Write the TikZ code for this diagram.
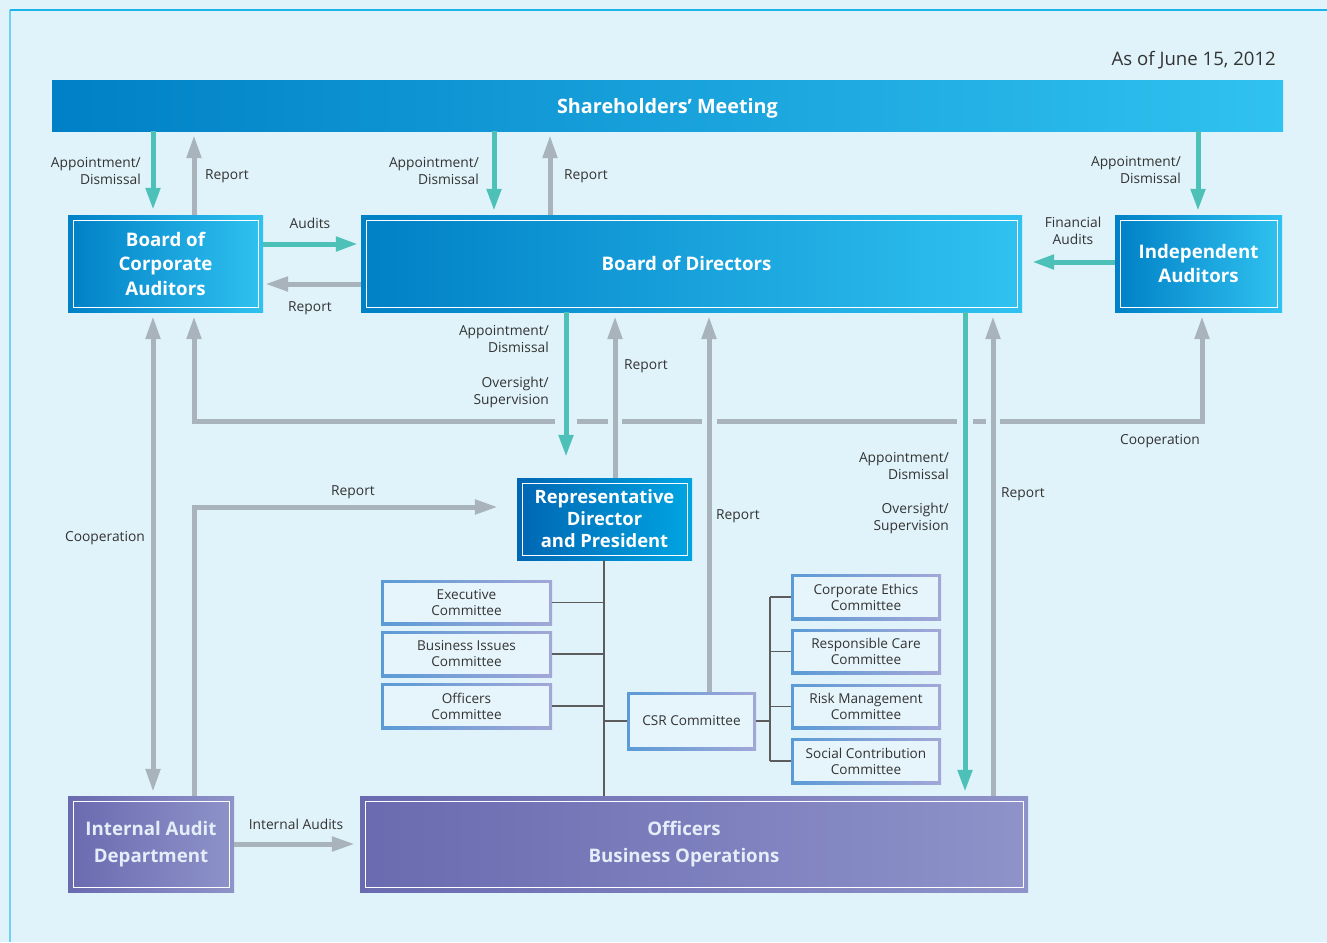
\documentclass[tikz,border=0pt]{standalone}
\usepackage{fontspec}
\setmainfont{Open Sans}
\usetikzlibrary{arrows.meta,calc}

\definecolor{bgc}{HTML}{E0F3FA}
\definecolor{framec}{HTML}{1AB4EC}
\definecolor{framel}{HTML}{6FD0F4}
\definecolor{tealc}{HTML}{4DC1B8}
\definecolor{grayc}{HTML}{A8B3BC}
\definecolor{blueL}{HTML}{0080C6}
\definecolor{blueR}{HTML}{30C2F0}
\definecolor{repL}{HTML}{0066B3}
\definecolor{repR}{HTML}{00A5E2}
\definecolor{purL}{HTML}{6A6AB0}
\definecolor{purR}{HTML}{8E93C9}
\definecolor{comL}{HTML}{5A9BD6}
\definecolor{comR}{HTML}{A3A7D7}
\definecolor{comfill}{HTML}{E6F5FB}
\definecolor{txt}{HTML}{333333}
\definecolor{lnc}{HTML}{5C5C5C}
\definecolor{purtxt}{HTML}{E4EEF9}

\tikzset{
  innerframe/.style={path picture={\draw[white,line width=1pt]
    ([shift={(#1,#1)}]path picture bounding box.south west) rectangle
    ([shift={(-#1,-#1)}]path picture bounding box.north east);}},
  bluebox/.style={draw=none, inner sep=0pt, left color=blueL, right color=blueR,
    text=white, align=center, font=\bfseries\fontsize{18.7}{24.5}\selectfont,
    innerframe=5pt},
  repbox/.style={bluebox, left color=repL, right color=repR,
    font=\bfseries\fontsize{18.4}{22}\selectfont},
  purbox/.style={draw=none, inner sep=0pt, left color=purL, right color=purR,
    text=purtxt, align=center, font=\bfseries\fontsize{18.7}{27}\selectfont,
    innerframe=5pt},
  combox/.style={draw=none, inner sep=0pt, left color=comL, right color=comR,
    text=txt, align=center, font=\fontsize{13.6}{16}\selectfont,
    path picture={\fill[comfill]
      ([shift={(3pt,3pt)}]path picture bounding box.south west) rectangle
      ([shift={(-3pt,-3pt)}]path picture bounding box.north east);}},
  lbl/.style={text=txt, inner sep=0pt, font=\fontsize{13.8}{17}\selectfont},
  tarr/.style={draw=tealc, line width=5pt, -{Triangle[length=22pt,width=14pt]}},
  garr/.style={draw=grayc, line width=5pt, -{Triangle[length=23pt,width=14pt]}},
  garrboth/.style={draw=grayc, line width=5pt,
    {Triangle[length=23pt,width=14pt]}-{Triangle[length=23pt,width=14pt]}},
  thinln/.style={draw=lnc, line width=1.1pt},
  gapmark/.style={fill=bgc}
}

\begin{document}
\begin{tikzpicture}[x=1pt,y=-1pt]
% page and frame
\fill[bgc] (0,0) rectangle (1327,942);
\useasboundingbox (0,0) rectangle (1327,942);
\draw[framel, line width=1.6pt] (10,942) -- (10,10);
\draw[framec, line width=1.6pt] (10,10) -- (1327,10);

\node[lbl, anchor=east, font=\fontsize{18.6}{20}\selectfont] (date) at (1276,60) {As of June 15, 2012};

% main bodies
\node[draw=none, inner sep=0pt, left color=blueL, right color=blueR, text=white,
  font=\bfseries\fontsize{19.8}{22}\selectfont, minimum width=1231pt, minimum height=51pt]
  (sm) at (667.5,105.5) {\raisebox{-7.5pt}[0pt][0pt]{Shareholders’ Meeting}};
\node[bluebox, minimum width=195pt, minimum height=97pt] (bca) at (165.5,263.5)
  {Board of\\Corporate\\Auditors};
\node[bluebox, minimum width=661pt, minimum height=97pt] (bod) at (691.5,263.5)
  {\hspace*{-10pt}Board of Directors};
\node[bluebox, minimum width=167pt, minimum height=97pt] (ia) at (1198.5,263.5)
  {Independent\\Auditors};
\node[repbox, minimum width=175pt, minimum height=82pt] (rdp) at (604.5,519)
  {Representative\\Director\\and President};
\node[purbox, minimum width=166pt, minimum height=96pt] (iad) at (151,844)
  {Internal Audit\\Department};
\node[purbox, minimum width=668pt, minimum height=96pt] (obo) at (694,844)
  {\hspace*{-20pt}Officers\\\hspace*{-20pt}Business Operations};

% committees
\node[combox, minimum width=171pt, minimum height=45pt] (exe) at (466.5,602.5) {Executive\\Committee};
\node[combox, minimum width=171pt, minimum height=46pt] (bic) at (466.5,654) {Business Issues\\Committee};
\node[combox, minimum width=171pt, minimum height=46pt] (ofc) at (466.5,706) {Officers\\Committee};
\node[combox, minimum width=129pt, minimum height=58pt] (csr) at (691.5,721) {CSR Committee};
\node[combox, minimum width=150pt, minimum height=46pt] (ceth) at (866,597) {Corporate Ethics\\Committee};
\node[combox, minimum width=150pt, minimum height=45pt] (rcc) at (866,651.5) {Responsible Care\\Committee};
\node[combox, minimum width=150pt, minimum height=45pt] (rmc) at (866,706.5) {Risk Management\\Committee};
\node[combox, minimum width=150pt, minimum height=46pt] (scc) at (866,761) {Social Contribution\\Committee};

% column and row guides
\coordinate (c153) at (153,0);
\coordinate (c194) at (194,0);
\coordinate (c494) at (494,0);
\coordinate (c550) at (550,0);
\coordinate (c566) at (566,0);
\coordinate (c604) at (604,0);
\coordinate (c615) at (615,0);
\coordinate (c709) at (709,0);
\coordinate (c770) at (770,0);
\coordinate (c965) at (965,0);
\coordinate (c993) at (993,0);
\coordinate (c1198) at (1198,0);
\coordinate (c1202) at (1202,0);
\coordinate (r244) at (0,244);
\coordinate (r262) at (0,262);
\coordinate (r284) at (0,284);
\coordinate (r421) at (0,421);
\coordinate (r507) at (0,507);

% organisational tree lines
\draw[thinln] (c604 |- rdp.south) -- (c604 |- obo.north);
\draw[thinln] (exe.east) -- (exe.east -| c604);
\draw[thinln] (bic.east) -- (bic.east -| c604);
\draw[thinln] (ofc.east) -- (ofc.east -| c604);
\draw[thinln] (csr.west -| c604) -- (csr.west);
\draw[thinln] (csr.east) -- (csr.east -| c770);
\draw[thinln] (c770 |- ceth.west) -- (c770 |- scc.west);
\draw[thinln] (c770 |- ceth.west) -- (ceth.west);
\draw[thinln] (c770 |- rcc.west) -- (rcc.west);
\draw[thinln] (c770 |- rmc.west) -- (rmc.west);
\draw[thinln] (c770 |- scc.west) -- (scc.west);

% cooperation line between the auditors
\draw[garrboth, line join=miter, shorten <=4pt, shorten >=4pt]
  (c194 |- bca.south) -- (c194 |- r421) -- (c1202 |- r421) -- (c1202 |- ia.south);
\fill[gapmark] (555,414) rectangle (577,428);
\fill[gapmark] (608,414) rectangle (622,428);
\fill[gapmark] (702,414) rectangle (717,428);
\fill[gapmark] (957,414) rectangle (973,428);
\fill[gapmark] (986,414) rectangle (1000,428);

% shareholders' meeting links
\draw[tarr, shorten >=5pt] (c153 |- sm.south) -- (c153 |- bca.north);
\draw[garr, shorten >=4pt] (c194 |- bca.north) -- (c194 |- sm.south);
\draw[tarr, shorten >=4pt] (c494 |- sm.south) -- (c494 |- bod.north);
\draw[garr, shorten >=4pt] (c550 |- bod.north) -- (c550 |- sm.south);
\draw[tarr, shorten >=4pt] (c1198 |- sm.south) -- (c1198 |- ia.north);

% auditors and board
\draw[tarr, shorten >=3pt] (bca.east |- r244) -- (bod.west |- r244);
\draw[garr, shorten >=2pt] (bod.west |- r284) -- (bca.east |- r284);
\draw[tarr, shorten >=10pt] (ia.west |- r262) -- (bod.east |- r262);

% board and executive side
\draw[tarr, shorten >=21pt] (c566 |- bod.south) -- (c566 |- rdp.north);
\draw[garr, shorten >=4pt] (c615 |- rdp.north) -- (c615 |- bod.south);
\draw[garr, shorten >=4pt] (c709 |- csr.north) -- (c709 |- bod.south);
\draw[tarr, shorten >=4pt] (c965 |- bod.south) -- (c965 |- obo.north);
\draw[garr, shorten >=4pt] (c993 |- obo.north) -- (c993 |- bod.south);

% internal audit
\draw[garrboth, shorten <=4pt, shorten >=4pt] (c153 |- bca.south) -- (c153 |- iad.north);
\draw[garr, line join=miter, shorten >=19pt] (c194 |- iad.north) |- (rdp.west |- r507);
\draw[garr, shorten >=5pt] (iad.east) -- (obo.west |- iad.east);

% labels
\node[lbl, align=right, anchor=east] (l1) at (141,171) {Appointment/\\Dismissal};
\node[lbl, anchor=west] (l2) at (205,176) {Report};
\node[lbl, align=right, anchor=east] (l3) at (479,171) {Appointment/\\Dismissal};
\node[lbl, anchor=west] (l4) at (564,176) {Report};
\node[lbl, align=right, anchor=east] (l5) at (1181,170) {Appointment/\\Dismissal};
\node[lbl] (l6) at (310,223) {Audits};
\node[lbl] (l7) at (310,308) {Report};
\node[lbl, align=center] (l8) at (1073,231) {Financial\\Audits};
\node[lbl, align=right, anchor=east] (l9) at (549,339) {Appointment/\\Dismissal};
\node[lbl, align=right, anchor=east] (l10) at (549,392) {Oversight/\\Supervision};
\node[lbl, anchor=west] (l11) at (624,366) {Report};
\node[lbl] (l12) at (1160,441) {Cooperation};
\node[lbl, align=right, anchor=east] (l13) at (949,466) {Appointment/\\Dismissal};
\node[lbl, align=right, anchor=east] (l14) at (949,518) {Oversight/\\Supervision};
\node[lbl, anchor=west] (l15) at (1001,494) {Report};
\node[lbl, anchor=west] (l16) at (716,516) {Report};
\node[lbl] (l17) at (353,492) {Report};
\node[lbl] (l18) at (105,538) {Cooperation};
\node[lbl] (l19) at (296,824) {Internal Audits};
\end{tikzpicture}
\end{document}
